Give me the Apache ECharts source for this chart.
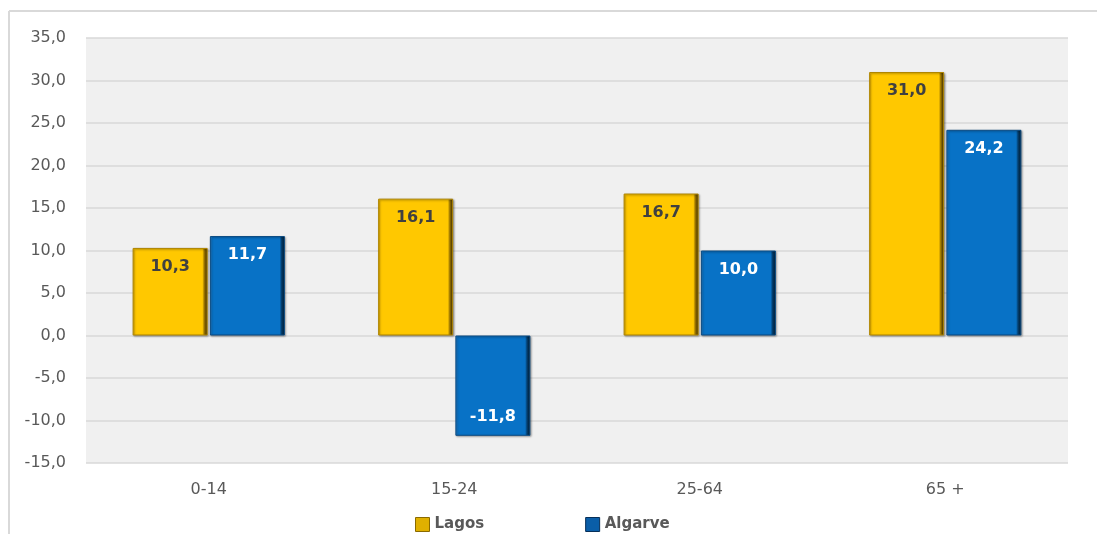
<!DOCTYPE html>
<html><head><meta charset="utf-8">
<script src="https://cdn.jsdelivr.net/npm/echarts@6/dist/echarts.min.js"></script>
<style>
html,body{margin:0;padding:0;background:#fff;overflow:hidden;}
#c{position:absolute;left:0;top:0;width:1097px;height:534px;}
</style></head>
<body><div id="c"></div>
<script>
var categories = ['0-14', '15-24', '25-64', '65 +'];
var lagos = [10.3, 16.1, 16.7, 31.0];
var algarve = [11.7, -11.8, 10.0, 24.2];
var seriesNames = ['Lagos', 'Algarve'];

function fmt(v){ return Number(v).toFixed(1).replace('.', ','); }
var FONT = '"DejaVu Sans", Verdana, sans-serif';

function grad(edgeL, body, edgeR, dark){
  return new echarts.graphic.LinearGradient(0, 0, 1, 0, [
    {offset: 0, color: edgeL}, {offset: 0.035, color: body},
    {offset: 0.93, color: body}, {offset: 0.955, color: edgeR}, {offset: 1, color: dark}
  ]);
}

function mkSeries(name, data, fill, border, labelColor){
  return {
    name: name, type: 'bar', data: data,
    barWidth: 75, barGap: '3%',
    itemStyle: {
      color: fill, borderColor: border, borderWidth: 1,
      shadowColor: 'rgba(0,0,0,0.35)', shadowBlur: 2, shadowOffsetX: 1, shadowOffsetY: 1
    },
    label: {
      show: true,
      position: 'insideTop', distance: 11,
      formatter: function(p){ return fmt(p.value); },
      color: labelColor, fontWeight: 'bold', fontSize: 16, fontFamily: FONT
    }
  };
}

var chart = echarts.init(document.getElementById('c'), null, {renderer: 'canvas'});
var s1 = mkSeries(seriesNames[0], lagos, grad('#e0a800', '#ffc800', '#9a7400', '#2e2200'), '#b08600', '#404040');
var s2 = mkSeries(seriesNames[1], algarve.map(function(v){
  return v < 0 ? {value: v, label: {position: 'insideBottom'}} : v;
}), grad('#2a86d4', '#0872c6', '#043e6e', '#001628'), '#0a4a82', '#ffffff');

chart.setOption({
  animation: false,
  graphic: [
    {type: 'line', silent: true, shape: {x1: 9, y1: 11, x2: 1097, y2: 11}, style: {stroke: '#d9d9d9', lineWidth: 2}},
    {type: 'line', silent: true, shape: {x1: 9, y1: 11, x2: 9, y2: 534}, style: {stroke: '#d9d9d9', lineWidth: 2}}
  ],
  grid: {left: 86, right: 29, top: 38, bottom: 71, show: true, backgroundColor: '#f0f0f0', borderWidth: 0},
  legend: {
    top: 512, left: 410, itemGap: 101, itemWidth: 14, itemHeight: 14, itemTextGap: 5,
    textStyle: {color: '#595959', fontWeight: 'bold', fontSize: 15, fontFamily: FONT},
    data: [
      {name: seriesNames[0], icon: 'rect', itemStyle: {color: '#e0b000', borderColor: '#8a6a00', borderWidth: 1}},
      {name: seriesNames[1], icon: 'rect', itemStyle: {color: '#0a5ea8', borderColor: '#062f58', borderWidth: 1}}
    ]
  },
  xAxis: {
    type: 'category', data: categories,
    axisLine: {show: false, onZero: false}, axisTick: {show: false},
    axisLabel: {color: '#595959', fontSize: 16, fontFamily: FONT, margin: 19}
  },
  yAxis: {
    type: 'value', min: -15, max: 35, interval: 5,
    axisLine: {show: false}, axisTick: {show: false},
    splitLine: {lineStyle: {color: '#d9d9d9', width: 1.5}},
    axisLabel: {color: '#595959', fontSize: 16, fontFamily: FONT, margin: 20, formatter: fmt}
  },
  series: [s1, s2]
});
</script></body></html>
